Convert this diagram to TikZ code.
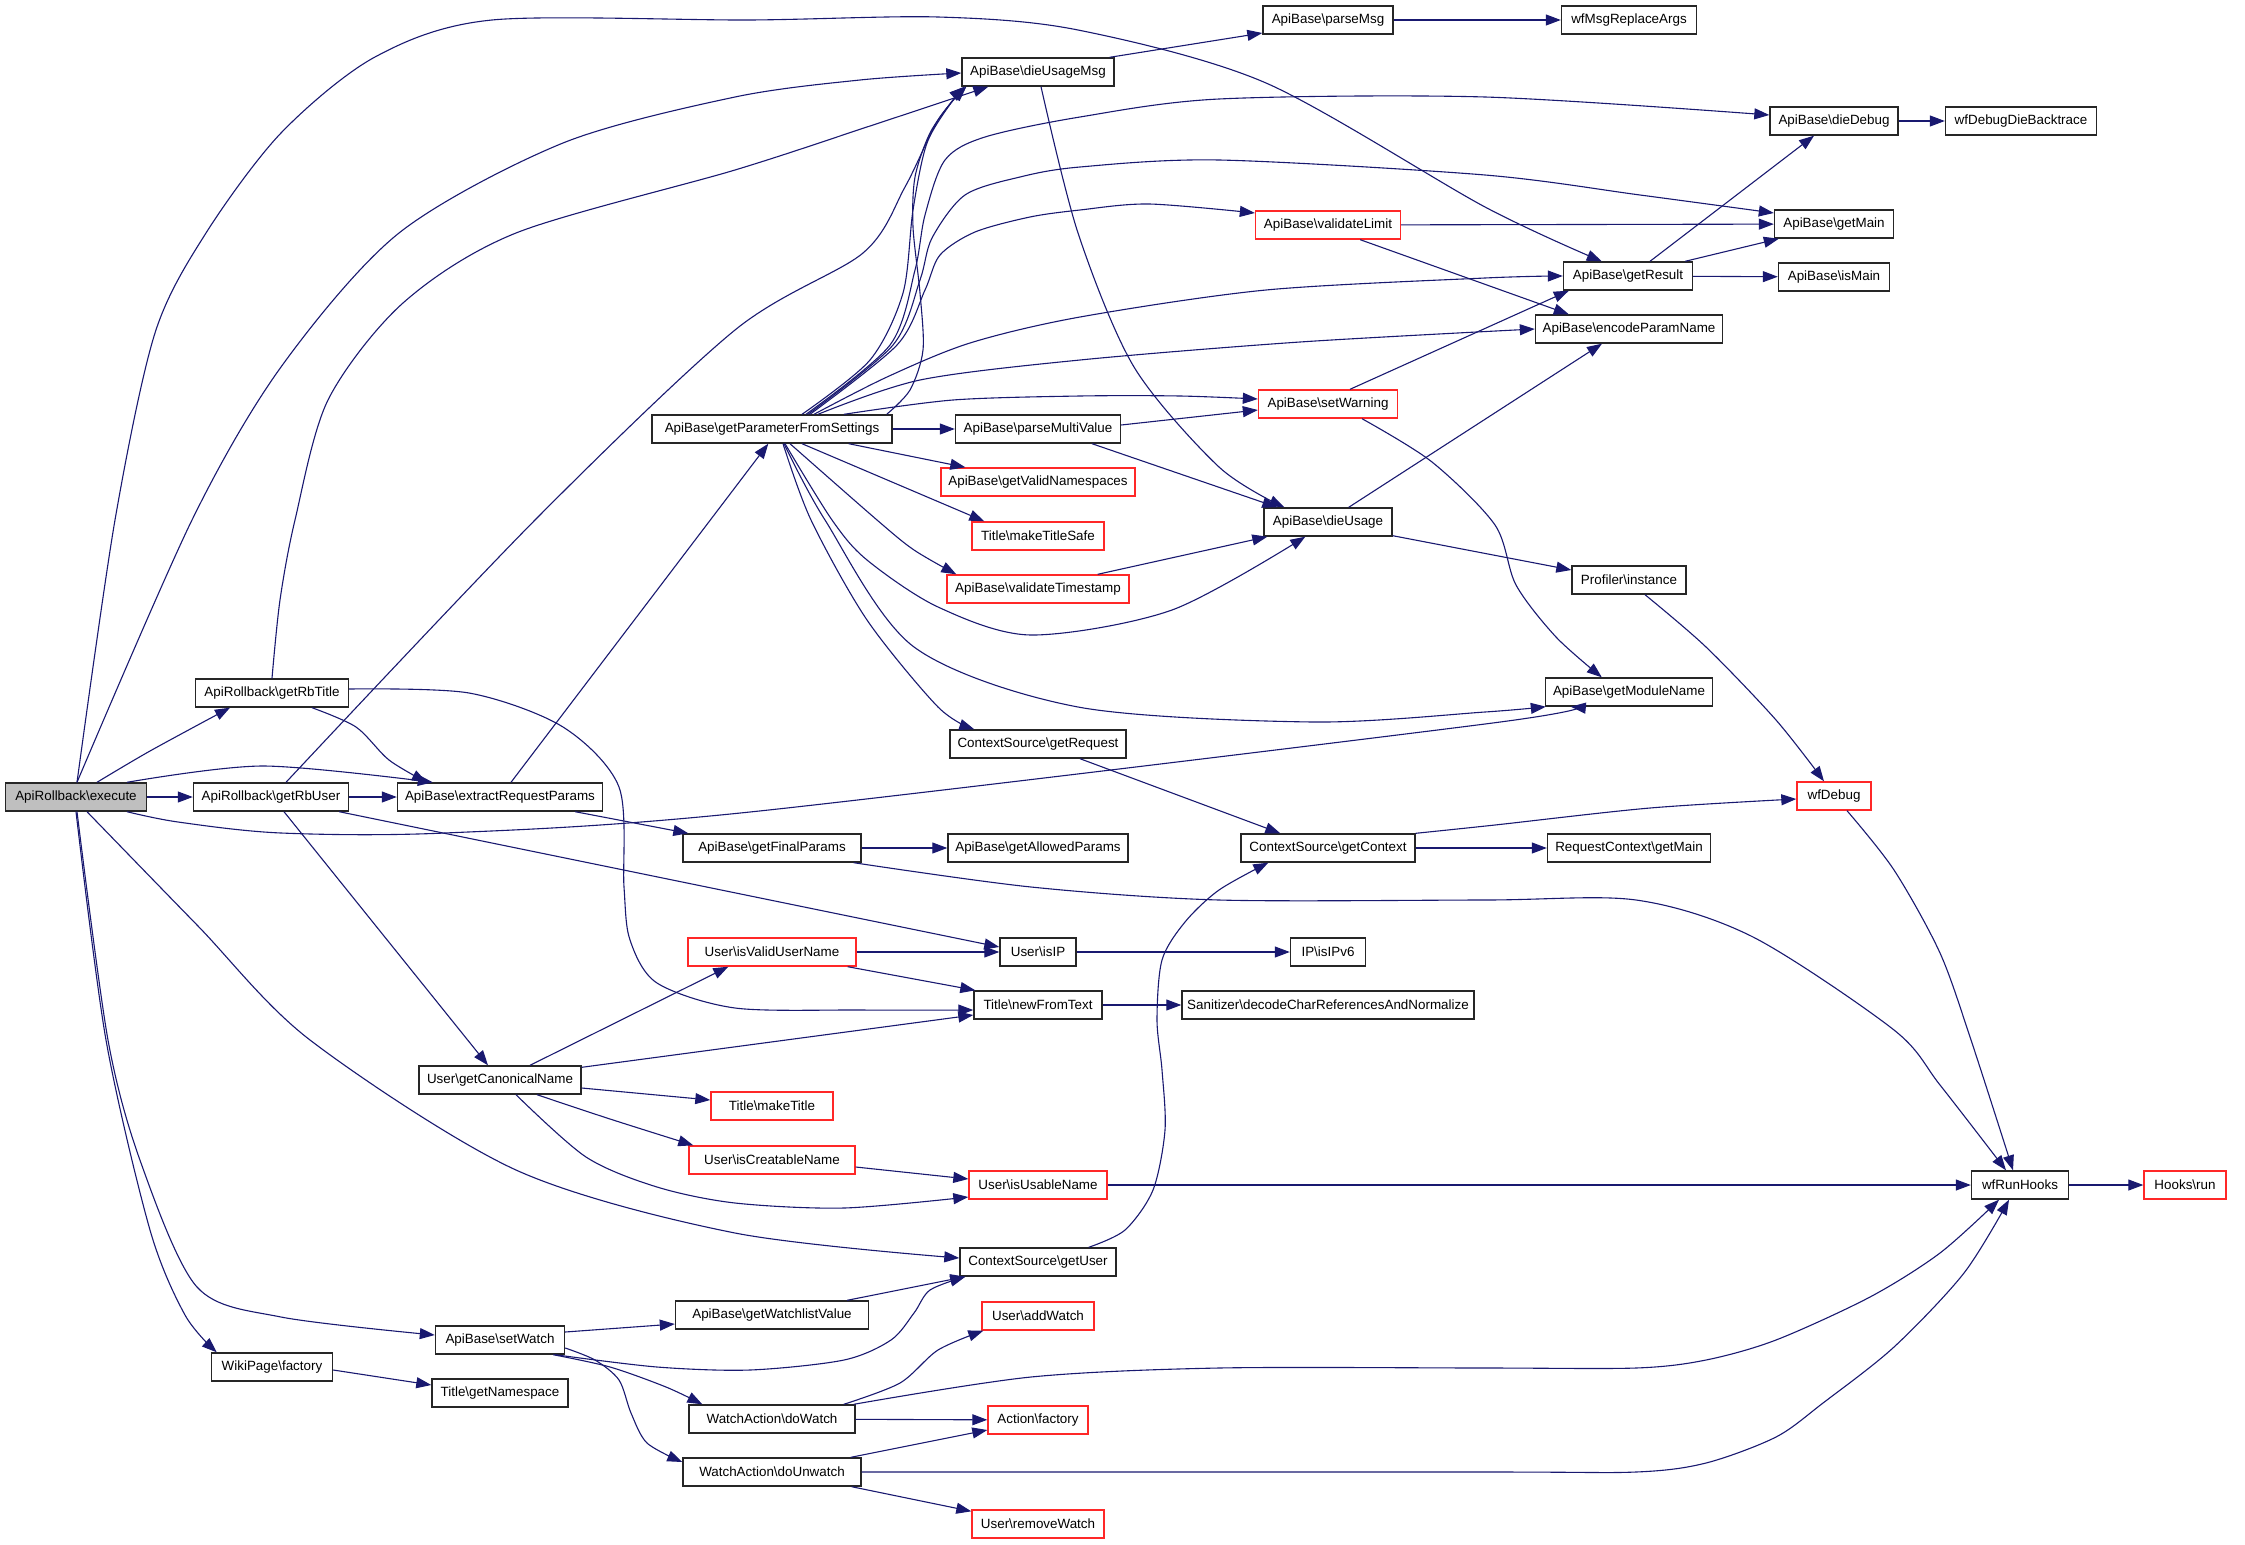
\documentclass[tikz,border=0pt]{standalone}
\usepackage{fontspec}
\setmainfont{Liberation Sans}
\usetikzlibrary{arrows.meta,calc}
\definecolor{edgec}{RGB}{25,25,112}
\definecolor{truncred}{RGB}{255,40,40}
\definecolor{rootgray}{RGB}{191,191,191}
\newcommand{\myBs}{\textbackslash}
\begin{document}
\begin{tikzpicture}[x=1pt,y=-1pt,
  box/.style={draw=black!85, line width=1.4pt, fill=white, minimum height=28pt, inner sep=0pt, font=\fontsize{13.4}{16}\selectfont},
  trunc/.style={box, draw=truncred},
  e/.style={draw=edgec, line width=1.1pt, -{Triangle[length=15pt,width=11pt]}}]
\useasboundingbox (0,0) rectangle (2245,1544);
% nodes
\node[box,minimum width=141pt,fill=rootgray] (ex) at (76,797) {ApiRollback\myBs execute};
\node[box,minimum width=153pt] (rbT) at (272,693) {ApiRollback\myBs getRbTitle};
\node[box,minimum width=155pt] (rbU) at (271,797) {ApiRollback\myBs getRbUser};
\node[box,minimum width=121pt] (wpf) at (272,1367) {WikiPage\myBs factory};
\node[box,minimum width=205pt] (erp) at (500,797) {ApiBase\myBs extractRequestParams};
\node[box,minimum width=162pt] (gcn) at (500,1080) {User\myBs getCanonicalName};
\node[box,minimum width=129pt] (sw) at (500,1340) {ApiBase\myBs setWatch};
\node[box,minimum width=136pt] (gns) at (500,1393) {Title\myBs getNamespace};
\node[box,minimum width=240pt] (gpfs) at (772,429) {ApiBase\myBs getParameterFromSettings};
\node[box,minimum width=178pt] (gfp) at (772,848) {ApiBase\myBs getFinalParams};
\node[trunc,minimum width=168pt] (ivun) at (772,952) {User\myBs isValidUserName};
\node[trunc,minimum width=122pt] (mt) at (772,1106) {Title\myBs makeTitle};
\node[trunc,minimum width=166pt] (icn) at (772,1160) {User\myBs isCreatableName};
\node[box,minimum width=193pt] (gwv) at (772,1315) {ApiBase\myBs getWatchlistValue};
\node[box,minimum width=166pt] (dw) at (772,1419) {WatchAction\myBs doWatch};
\node[box,minimum width=178pt] (duw) at (772,1472) {WatchAction\myBs doUnwatch};
\node[box,minimum width=152pt] (dum) at (1038,72) {ApiBase\myBs dieUsageMsg};
\node[box,minimum width=165pt] (pmv) at (1038,429) {ApiBase\myBs parseMultiValue};
\node[trunc,minimum width=194pt] (gvn) at (1038,482) {ApiBase\myBs getValidNamespaces};
\node[trunc,minimum width=132pt] (mts) at (1038,536) {Title\myBs makeTitleSafe};
\node[trunc,minimum width=182pt] (vts) at (1038,589) {ApiBase\myBs validateTimestamp};
\node[box,minimum width=176pt] (greq) at (1038,744) {ContextSource\myBs getRequest};
\node[box,minimum width=180pt] (gap) at (1038,848) {ApiBase\myBs getAllowedParams};
\node[box,minimum width=76pt] (isip) at (1038,952) {User\myBs isIP};
\node[box,minimum width=128pt] (nft) at (1038,1005) {Title\myBs newFromText};
\node[trunc,minimum width=138pt] (iun) at (1038,1185) {User\myBs isUsableName};
\node[box,minimum width=156pt] (gu) at (1038,1262) {ContextSource\myBs getUser};
\node[trunc,minimum width=112pt] (aw) at (1038,1316) {User\myBs addWatch};
\node[trunc,minimum width=100pt] (af) at (1038,1420) {Action\myBs factory};
\node[trunc,minimum width=132pt] (rw) at (1038,1524) {User\myBs removeWatch};
\node[box,minimum width=130pt] (pm) at (1328,20) {ApiBase\myBs parseMsg};
\node[trunc,minimum width=145pt] (vl) at (1328,225) {ApiBase\myBs validateLimit};
\node[trunc,minimum width=139pt] (swarn) at (1328,404) {ApiBase\myBs setWarning};
\node[box,minimum width=128pt] (du) at (1328,522) {ApiBase\myBs dieUsage};
\node[box,minimum width=174pt] (gctx) at (1328,848) {ContextSource\myBs getContext};
\node[box,minimum width=75pt] (ipv6) at (1328,952) {IP\myBs isIPv6};
\node[box,minimum width=292pt] (san) at (1328,1005) {Sanitizer\myBs decodeCharReferencesAndNormalize};
\node[box,minimum width=135pt] (wmra) at (1629,20) {wfMsgReplaceArgs};
\node[box,minimum width=129pt] (gr) at (1628,276) {ApiBase\myBs getResult};
\node[box,minimum width=187pt] (epn) at (1629,329) {ApiBase\myBs encodeParamName};
\node[box,minimum width=114pt] (prof) at (1629,580) {Profiler\myBs instance};
\node[box,minimum width=167pt] (gmn) at (1629,692) {ApiBase\myBs getModuleName};
\node[box,minimum width=163pt] (rcgm) at (1629,848) {RequestContext\myBs getMain};
\node[box,minimum width=128pt] (dd) at (1834,121) {ApiBase\myBs dieDebug};
\node[box,minimum width=119pt] (gm) at (1834,224) {ApiBase\myBs getMain};
\node[box,minimum width=111pt] (im) at (1834,277) {ApiBase\myBs isMain};
\node[trunc,minimum width=74pt] (wfd) at (1834,796) {wfDebug};
\node[box,minimum width=151pt] (wddb) at (2021,121) {wfDebugDieBacktrace};
\node[box,minimum width=97pt] (wrh) at (2020,1185) {wfRunHooks};
\node[trunc,minimum width=82pt] (hr) at (2185,1185) {Hooks\myBs run};
% edges from execute
\draw[e] plot[smooth] coordinates {($(ex.north)+(21,0)$) (150,751) ($(rbT.south)+(-42,0)$)};
\draw[e] (ex) -- (rbU);
\draw[e] plot[smooth] coordinates {($(ex.north)+(51,0)$) (263,766) ($(erp.north west)+(36,0)$)};
\draw[e] plot[smooth] coordinates {($(ex.south)+(51,0)$) (178,822) (281,833) (445,833) (750,812) (1485,724) ($(gmn.south west)+(26,0)$)};
\draw[e] plot[smooth] coordinates {($(ex.south)+(11,0)$) (198,926) (310,1040) (516,1170) (735,1233) ($(gu.west)+(0,-4)$)};
\draw[e] plot[smooth] coordinates {($(ex.south)+(1,0)$) (108,1040) (141,1163) (197,1287) (281,1317) ($(sw.west)+(0,-5)$)};
\draw[e] plot[smooth] coordinates {(ex.south) (106,1040) (150,1230) (185,1315) ($(wpf.north west)+(6,0)$)};
\draw[e] plot[smooth] coordinates {($(ex.north)+(1,0)$) (115,520) (155,333) (206,233) (281,133) (375,57) (492,20) (750,20) (938,17) (1078,30) (1266,83) (1485,207) ($(gr.north west)+(39,0)$)};
\draw[e] plot[smooth] coordinates {($(ex.north)+(1,0)$) (192,520) (281,367) (399,233) (563,143) (735,97) (860,80) ($(dum.west)+(0,1)$)};
% getRbTitle
\draw[e] plot[smooth] coordinates {(rbT.north) (280,600) (295,520) (328,400) (403,303) (516,233) (735,170) (870,126) ($(dum.south west)+(27,0)$)};
\draw[e] plot[smooth] coordinates {($(rbT.south)+(40,0)$) (356,727) (389,760) ($(erp.north west)+(30,0)$)};
\draw[e] plot[smooth] coordinates {($(rbT.east)+(0,-4)$) (469,693) (563,727) (619,787) (624,887) (630,940) (657,983) (735,1008) (860,1010) ($(nft.west)+(0,5)$)};
% getRbUser
\draw[e] plot[smooth] coordinates {($(rbU.north)+(15,0)$) (535,520) (735,330) (863,253) (905,187) (938,120) ($(dum.south west)+(5,0)$)};
\draw[e] (rbU) -- (erp);
\draw[e] ($(rbU.south east)+(-10,0)$) -- ($(isip.west)+(0,-5)$);
\draw[e] ($(rbU.south)+(13,0)$) -- ($(gcn.north)+(-12,0)$);
% extractRequestParams
\draw[e] ($(erp.north)+(11,0)$) -- ($(gpfs.south west)+(117,0)$);
\draw[e] ($(erp.south east)+(-28,0)$) -- ($(gfp.north west)+(6,0)$);
% getParameterFromSettings
\draw[e] plot[smooth] coordinates {($(gpfs.north)+(30,0)$) (870,360) (903,293) (913,210) (927,143) (953,100) ($(dum.south west)+(3,0)$)};
\draw[e] plot[smooth] coordinates {($(gpfs.north east)+(-6,0)$) (910,390) (923,350) (920,293) (913,227) (915,177) (930,133) (953,100) ($(dum.south west)+(5,0)$)};
\draw[e] plot[smooth] coordinates {($(gpfs.north)+(34,0)$) (890,345) (915,270) (925,215) (945,160) (985,137) (1080,117) (1219,99) (1485,97) ($(dd.west)+(0,-6)$)};
\draw[e] plot[smooth] coordinates {($(gpfs.north)+(36,0)$) (893,345) (920,280) (932,238) (965,195) (1020,177) (1080,167) (1219,160) (1485,175) (1640,195) ($(gm.west)+(0,-11)$)};
\draw[e] plot[smooth] coordinates {($(gpfs.north)+(38,0)$) (897,345) (925,290) (940,255) (975,232) (1030,217) (1080,210) (1149,204) ($(vl.west)+(0,-12)$)};
\draw[e] plot[smooth] coordinates {($(gpfs.north)+(42,0)$) (887,377) (970,343) (1080,317) (1266,290) (1485,278) (gr.west)};
\draw[e] plot[smooth] coordinates {($(gpfs.north)+(46,0)$) (920,380) (1080,360) (1300,342) (epn.west)};
\draw[e] plot[smooth] coordinates {($(gpfs.north)+(72,0)$) (953,400) (1080,396) (1180,396) ($(swarn.west)+(0,-5)$)};
\draw[e] (gpfs) -- (pmv);
\draw[e] ($(gpfs.south east)+(-44,0)$) -- ($(gvn.north west)+(25,0)$);
\draw[e] ($(gpfs.south)+(30,0)$) -- ($(mts.north west)+(13,0)$);
\draw[e] plot[smooth] coordinates {($(gpfs.south)+(18,0)$) (877,520) (914,550) ($(vts.north west)+(10,0)$)};
\draw[e] plot[smooth] coordinates {($(gpfs.south)+(13,0)$) (832,520) (867,560) (938,607) (1031,635) (1172,610) ($(du.south west)+(42,0)$)};
\draw[e] plot[smooth] coordinates {($(gpfs.south)+(11,0)$) (811,520) (867,620) (938,707) ($(greq.north west)+(25,0)$)};
\draw[e] plot[smooth] coordinates {($(gpfs.south)+(12,0)$) (825,520) (914,647) (1078,707) (1313,722) (1485,712) ($(gmn.south west)+(1,0)$)};
% dieUsageMsg etc
\draw[e] ($(dum.north east)+(-5,0)$) -- ($(pm.west)+(0,13)$);
\draw[e] plot[smooth] coordinates {($(dum.south)+(3,0)$) (1078,233) (1134,367) (1219,467) ($(du.north west)+(21,0)$)};
\draw[e] (pm) -- (wmra);
\draw[e] (vl) -- (gm);
\draw[e] ($(vl.south east)+(-41,0)$) -- ($(epn.north west)+(34,0)$);
\draw[e] ($(swarn.north)+(22,0)$) -- ($(gr.south west)+(6,0)$);
\draw[e] plot[smooth] coordinates {($(swarn.south)+(34,0)$) (1432,462) (1495,525) (1516,585) (1556,637) ($(gmn.north west)+(57,0)$)};
\draw[e] ($(pmv.east)+(0,-4)$) -- ($(swarn.west)+(0,6)$);
\draw[e] ($(pmv.south)+(54,0)$) -- ($(du.north west)+(14,0)$);
\draw[e] ($(vts.north east)+(-32,0)$) -- ($(du.south west)+(4,0)$);
\draw[e] ($(du.north east)+(-44,0)$) -- ($(epn.south)+(-27,0)$);
\draw[e] ($(du.south east)+(0,-1)$) -- ($(prof.west)+(0,-10)$);
\draw[e] ($(gr.north)+(22,0)$) -- ($(dd.south)+(-20,0)$);
\draw[e] ($(gr.north east)+(-8,0)$) -- ($(gm.south west)+(5,0)$);
\draw[e] (gr) -- (im);
\draw[e] (dd) -- (wddb);
\draw[e] plot[smooth] coordinates {($(prof.south)+(16,0)$) (1706,647) (1776,720) ($(wfd.north)+(-10,0)$)};
\draw[e] ($(greq.south)+(42,0)$) -- ($(gctx.north west)+(40,0)$);
\draw[e] plot[smooth] coordinates {(gctx.north east) (1495,825) (1650,808) ($(wfd.west)+(0,3)$)};
\draw[e] (gctx) -- (rcgm);
\draw[e] (gfp) -- (gap);
\draw[e] plot[smooth] coordinates {($(gfp.south east)+(-8,0)$) (1031,887) (1219,900) (1485,900) (1636,900) (1753,937) (1894,1030) (1940,1085) ($(wrh.north)+(-14,0)$)};
\draw[e] plot[smooth] coordinates {($(wfd.south)+(13,0)$) (1894,870) (1940,953) (1971,1040) ($(wrh.north)+(-7,0)$)};
\draw[e] (ivun) -- (isip);
\draw[e] ($(ivun.south east)+(-9,0)$) -- ($(nft.north west)+(2,0)$);
\draw[e] (isip) -- (ipv6);
\draw[e] (nft) -- (san);
% getCanonicalName
\draw[e] ($(gcn.north)+(30,0)$) -- ($(ivun.south west)+(41,0)$);
\draw[e] ($(gcn.north east)+(0,2)$) -- ($(nft.west)+(0,10)$);
\draw[e] ($(gcn.east)+(0,8)$) -- ($(mt.west)+(0,-6)$);
\draw[e] plot[smooth] coordinates {($(gcn.south)+(37,0)$) (610,1119) ($(icn.north west)+(5,0)$)};
\draw[e] plot[smooth] coordinates {($(gcn.south)+(16,0)$) (586,1157) (657,1187) (735,1203) (844,1208) ($(iun.west)+(0,12)$)};
\draw[e] ($(icn.east)+(0,7)$) -- ($(iun.west)+(0,-6)$);
\draw[e] (iun) -- (wrh);
\draw[e] plot[smooth] coordinates {($(gu.north east)+(-28,0)$) (1125,1230) (1153,1190) (1165,1130) (1162,1070) (1157,1020) (1162,960) (1185,922) (1219,890) ($(gctx.south west)+(28,0)$)};
% setWatch
\draw[e] ($(sw.east)+(0,-8)$) -- ($(gwv.west)+(0,9)$);
\draw[e] plot[smooth] coordinates {($(sw.south east)+(-10,0)$) (657,1367) (750,1370) (844,1360) (891,1340) (914,1313) (930,1290) ($(gu.south west)+(6,0)$)};
\draw[e] plot[smooth] coordinates {($(sw.south east)+(-12,0)$) (610,1367) (666,1387) ($(dw.north west)+(14,0)$)};
\draw[e] plot[smooth] coordinates {($(sw.east)+(0,8)$) (595,1360) (619,1380) (631,1413) (647,1443) ($(duw.west)+(0,-10)$)};
\draw[e] ($(gwv.north east)+(-22,0)$) -- ($(gu.south west)+(6,0)$);
\draw[e] ($(wpf.east)+(0,3)$) -- ($(gns.west)+(0,-8)$);
% watch actions
\draw[e] plot[smooth] coordinates {($(dw.north east)+(-12,0)$) (900,1383) (938,1350) ($(aw.south west)+(2,0)$)};
\draw[e] (dw) -- (af);
\draw[e] plot[smooth] coordinates {($(dw.north east)+(-2,0)$) (1031,1377) (1219,1368) (1485,1368) (1636,1368) (1706,1360) (1776,1340) (1870,1297) (1940,1253) ($(wrh.south)+(-21,0)$)};
\draw[e] ($(duw.north east)+(-11,0)$) -- ($(af.west)+(0,10)$);
\draw[e] plot[smooth] coordinates {(duw.east) (1485,1472) (1636,1472) (1706,1463) (1776,1437) (1823,1403) (1894,1347) (1964,1273) ($(wrh.south)+(-11,0)$)};
\draw[e] ($(duw.south east)+(-10,0)$) -- ($(rw.north west)+(0,2)$);
\draw[e] (wrh) -- (hr);
\end{tikzpicture}
\end{document}
